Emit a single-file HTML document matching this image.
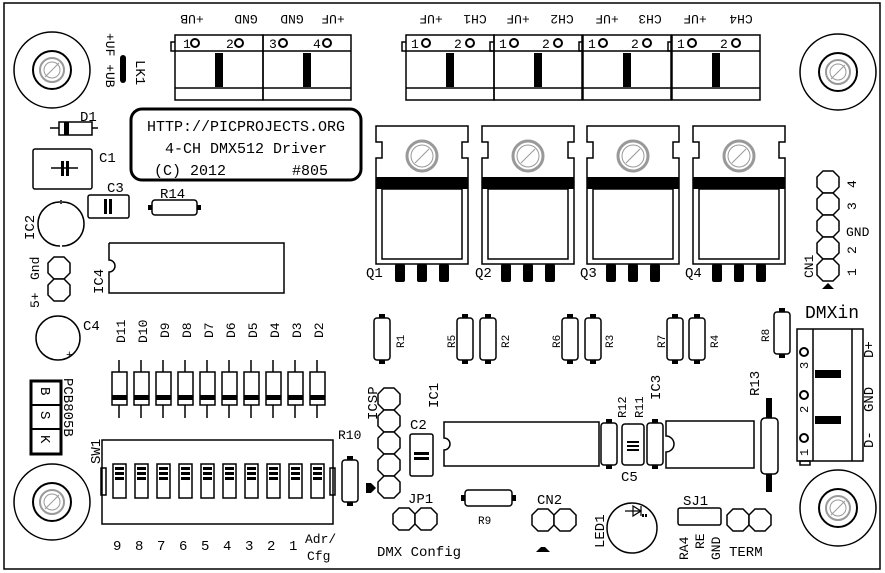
<!DOCTYPE html>
<html><head><meta charset="utf-8"><style>
html,body{margin:0;padding:0;background:#fff}
svg{display:block}
text{font-family:"Liberation Mono","DejaVu Sans Mono",monospace;fill:#000}
.s{fill:none;stroke:#000;stroke-width:1.5}
.f{fill:#fff;stroke:#000;stroke-width:1.5}
</style></head><body>
<svg width="885" height="573" viewBox="0 0 885 573" xmlns="http://www.w3.org/2000/svg">
<defs>
<g id="oct"><polygon class="f" points="-5,-11 5,-11 11,-5 11,5 5,11 -5,11 -11,5 -11,-5"/></g>
<g id="hole"><circle class="s" r="38"/><circle r="19" fill="none" stroke="#000" stroke-width="2"/><circle r="12" fill="none" stroke="#999" stroke-width="2"/><line x1="-7" y1="7" x2="7" y2="-7" stroke="#999" stroke-width="1"/><circle r="8" fill="none" stroke="#999" stroke-width="1"/></g>
<g id="rv"><rect x="-3" y="-25" width="6" height="5" fill="#000"/><rect x="-3" y="20" width="6" height="5" fill="#000"/><rect class="f" x="-8" y="-21" width="16" height="42" rx="3"/></g>
<g id="diode"><line class="s" x1="7" y1="0" x2="7" y2="12"/><rect class="f" x="0" y="12" width="15" height="33"/><rect x="0" y="35" width="15" height="5" fill="#000"/><line class="s" x1="7" y1="45" x2="7" y2="58"/></g>
<g id="sw"><rect class="f" x="0" y="0" width="13" height="34"/><rect x="2" y="3" width="9" height="3" fill="#000"/><rect x="2" y="8" width="9" height="3" fill="#000"/><rect x="2" y="13" width="9" height="3" fill="#000"/></g>
<g id="mos"><path class="f" d="M0,0 H92 V16 H86 V32 H92 V138 H0 V32 H6 V16 H0 Z"/><rect x="0" y="51" width="92" height="12" fill="#000"/><rect class="s" x="6" y="63" width="80" height="70"/><circle cx="46" cy="30" r="15" fill="none" stroke="#999" stroke-width="3"/><circle cx="46" cy="30" r="11" fill="none" stroke="#999" stroke-width="1"/><line x1="39" y1="37" x2="53" y2="23" stroke="#999"/><rect x="19" y="138" width="10" height="18" rx="2" fill="#000"/><rect x="41" y="138" width="10" height="18" rx="2" fill="#000"/><rect x="63" y="138" width="10" height="18" rx="2" fill="#000"/></g>
<g id="tb"><rect class="s" x="0" y="0" width="88" height="65"/><line class="s" x1="0" y1="16" x2="88" y2="16"/><line class="s" x1="0" y1="53" x2="88" y2="53"/><rect x="40" y="18" width="8" height="34" fill="#000"/><circle cx="20" cy="8" r="4" fill="none" stroke="#000" stroke-width="2"/><circle cx="64" cy="8" r="4" fill="none" stroke="#000" stroke-width="2"/></g>
</defs>

<rect x="4" y="3" width="876" height="566" fill="none" stroke="#000" stroke-width="1.5"/>

<use href="#hole" x="52" y="70"/><use href="#hole" x="838" y="72"/><use href="#hole" x="52" y="502"/><use href="#hole" x="838" y="508"/>

<use href="#tb" x="175" y="35"/><use href="#tb" x="263" y="35"/>
<path class="s" d="M175,42 h-4 v9 h4"/>
<text x="183" y="48" font-size="13">1</text><text x="226" y="48" font-size="13">2</text><text x="269" y="48" font-size="13">3</text><text x="313" y="48" font-size="13">4</text>
<use href="#tb" x="406" y="35"/><use href="#tb" x="494" y="35"/><use href="#tb" x="583" y="35"/><use href="#tb" x="672" y="35"/>
<path class="s" d="M406,42 h-4 v9 h4 M494,42 h-4 v9 h4 M583,42 h-4 v9 h4 M672,42 h-4 v9 h4"/>
<g font-size="13"><text x="411" y="48">1</text><text x="454" y="48">2</text><text x="499" y="48">1</text><text x="542" y="48">2</text><text x="588" y="48">1</text><text x="631" y="48">2</text><text x="677" y="48">1</text><text x="720" y="48">2</text></g>
<g font-size="13" text-anchor="middle">
<text transform="rotate(180 192 20)" x="192" y="25">+UB</text>
<text transform="rotate(180 246 20)" x="246" y="25">GND</text>
<text transform="rotate(180 292 20)" x="292" y="25">GND</text>
<text transform="rotate(180 333 20)" x="333" y="25">+UF</text>
<text transform="rotate(180 431 20)" x="431" y="25">+UF</text>
<text transform="rotate(180 475 20)" x="475" y="25">CH1</text>
<text transform="rotate(180 518 20)" x="518" y="25">+UF</text>
<text transform="rotate(180 562 20)" x="562" y="25">CH2</text>
<text transform="rotate(180 607 20)" x="607" y="25">+UF</text>
<text transform="rotate(180 650 20)" x="650" y="25">CH3</text>
<text transform="rotate(180 695 20)" x="695" y="25">+UF</text>
<text transform="rotate(180 741 20)" x="741" y="25">CH4</text>
</g>

<rect x="120" y="55" width="6" height="28" rx="3" fill="#000"/>
<text transform="rotate(90 106 33)" x="106" y="33" font-size="13">+UF +UB</text>
<text transform="rotate(90 136 60)" x="136" y="60" font-size="14">LK1</text>

<rect x="131" y="109" width="230" height="71" rx="11" fill="none" stroke="#000" stroke-width="3"/>
<text x="246" y="131" font-size="15" text-anchor="middle">HTTP://PICPROJECTS.ORG</text>
<text x="246" y="153" font-size="15" text-anchor="middle">4-CH DMX512 Driver</text>
<text x="154" y="175" font-size="15">(C) 2012</text><text x="292" y="175" font-size="15">#805</text>

<line class="s" x1="50" y1="128" x2="98" y2="128"/><rect class="f" x="59" y="122" width="33" height="13"/><rect x="64" y="122" width="5" height="13" fill="#000"/>
<text x="80" y="121" font-size="14">D1</text>
<rect class="s" x="33" y="149" width="59" height="40" rx="2"/>
<line class="s" x1="51" y1="168" x2="78" y2="168"/><rect x="61" y="161" width="3" height="15" fill="#000"/><rect x="66" y="161" width="3" height="15" fill="#000"/>
<text x="99" y="162" font-size="14">C1</text>
<rect class="s" x="88" y="195" width="41" height="23" rx="2"/><rect x="104" y="199" width="3" height="15" fill="#000"/><rect x="109" y="199" width="3" height="15" fill="#000"/>
<text x="107" y="192" font-size="14">C3</text>
<rect x="148" y="205" width="4" height="5" fill="#000"/><rect x="197" y="205" width="4" height="5" fill="#000"/>
<rect class="f" x="152" y="200" width="45" height="15" rx="3"/>
<text x="160" y="198" font-size="14">R14</text>
<path class="s" d="M60,202 A22,22 0 1 0 60,246"/><path class="s" d="M62,202 A22,22 0 0 1 62,246"/><line class="s" x1="61" y1="200" x2="61" y2="204"/>
<text transform="rotate(-90 34 240)" x="34" y="240" font-size="14">IC2</text>
<use href="#oct" x="59" y="268"/><use href="#oct" x="59" y="290"/>
<text transform="rotate(-90 39 280)" x="39" y="280" font-size="13">Gnd</text>
<text transform="rotate(-90 39 308)" x="39" y="308" font-size="13">5+</text>
<path class="s" d="M109,243 H284 V293 H109 V272 A6,6 0 0 0 109,260 V243"/>
<text transform="rotate(-90 103 294)" x="103" y="294" font-size="14">IC4</text>

<use href="#mos" x="376" y="126"/><use href="#mos" x="482" y="126"/><use href="#mos" x="587" y="126"/><use href="#mos" x="693" y="126"/>
<g font-size="14"><text x="366" y="277">Q1</text><text x="475" y="277">Q2</text><text x="580" y="277">Q3</text><text x="685" y="277">Q4</text></g>

<use href="#oct" x="828" y="182"/><use href="#oct" x="828" y="204"/><use href="#oct" x="828" y="226"/><use href="#oct" x="828" y="248"/><use href="#oct" x="828" y="270"/>
<polygon points="822,289 828,283 834,289" fill="#000"/>
<g font-size="13">
<text transform="rotate(-90 856 188)" x="856" y="188">4</text>
<text transform="rotate(-90 856 210)" x="856" y="210">3</text>
<text x="846" y="236">GND</text>
<text transform="rotate(-90 856 254)" x="856" y="254">2</text>
<text transform="rotate(-90 856 276)" x="856" y="276">1</text>
<text transform="rotate(-90 813 278)" x="813" y="278">CN1</text>
</g>

<circle class="s" cx="58" cy="338" r="22"/><text x="66" y="358" font-size="11">+</text>
<text x="83" y="330" font-size="14">C4</text>
<g font-size="13">
<text transform="rotate(-90 125 343)" x="125" y="343">D11</text>
<text transform="rotate(-90 147 343)" x="147" y="343">D10</text>
<text transform="rotate(-90 169 338)" x="169" y="338">D9</text>
<text transform="rotate(-90 191 338)" x="191" y="338">D8</text>
<text transform="rotate(-90 213 338)" x="213" y="338">D7</text>
<text transform="rotate(-90 235 338)" x="235" y="338">D6</text>
<text transform="rotate(-90 257 338)" x="257" y="338">D5</text>
<text transform="rotate(-90 279 338)" x="279" y="338">D4</text>
<text transform="rotate(-90 301 338)" x="301" y="338">D3</text>
<text transform="rotate(-90 323 338)" x="323" y="338">D2</text>
</g>
<use href="#diode" x="112" y="360"/><use href="#diode" x="134" y="360"/><use href="#diode" x="156" y="360"/><use href="#diode" x="178" y="360"/><use href="#diode" x="200" y="360"/><use href="#diode" x="222" y="360"/><use href="#diode" x="244" y="360"/><use href="#diode" x="266" y="360"/><use href="#diode" x="288" y="360"/><use href="#diode" x="310" y="360"/>

<rect x="31" y="381" width="30" height="73" fill="none" stroke="#000" stroke-width="3"/>
<line x1="31" y1="405" x2="61" y2="405" stroke="#000" stroke-width="2"/><line x1="31" y1="429" x2="61" y2="429" stroke="#000" stroke-width="2"/>
<g font-size="14"><text transform="rotate(90 41 387)" x="41" y="387">B</text><text transform="rotate(90 41 411)" x="41" y="411">S</text><text transform="rotate(90 41 435)" x="41" y="435">K</text>
<text transform="rotate(90 64 378)" x="64" y="378">PCB805B</text></g>

<rect class="s" x="102" y="440" width="231" height="84"/>
<rect class="s" x="101" y="468" width="5" height="27"/><rect class="s" x="330" y="468" width="5" height="27"/>
<use href="#sw" x="113" y="464"/><use href="#sw" x="135" y="464"/><use href="#sw" x="157" y="464"/><use href="#sw" x="179" y="464"/><use href="#sw" x="201" y="464"/><use href="#sw" x="223" y="464"/><use href="#sw" x="245" y="464"/><use href="#sw" x="267" y="464"/><use href="#sw" x="289" y="464"/><use href="#sw" x="311" y="464"/>
<text transform="rotate(-90 100 464)" x="100" y="464" font-size="14">SW1</text>
<g font-size="14"><text x="113" y="550">9</text><text x="135" y="550">8</text><text x="157" y="550">7</text><text x="179" y="550">6</text><text x="201" y="550">5</text><text x="223" y="550">4</text><text x="245" y="550">3</text><text x="267" y="550">2</text><text x="289" y="550">1</text></g>
<text x="305" y="543" font-size="13">Adr/</text><text x="307" y="560" font-size="13">Cfg</text>

<use href="#rv" x="350" y="481"/><text x="338" y="439" font-size="13">R10</text>
<use href="#oct" x="389" y="399"/><use href="#oct" x="389" y="421"/><use href="#oct" x="389" y="443"/><use href="#oct" x="389" y="465"/><use href="#oct" x="389" y="487"/>
<path d="M366,483 h5 l5,5 l-5,5 h-5 z" fill="#000"/>
<text transform="rotate(-90 377 420)" x="377" y="420" font-size="14">ICSP</text>
<use href="#oct" x="404" y="519"/><use href="#oct" x="426" y="519"/>
<text x="408" y="503" font-size="14">JP1</text>
<text x="377" y="556" font-size="14">DMX Config</text>

<rect class="s" x="410" y="434" width="23" height="42" rx="2"/><rect x="414" y="452" width="15" height="3" fill="#000"/><rect x="414" y="457" width="15" height="3" fill="#000"/>
<text x="410" y="429" font-size="14">C2</text>
<path class="s" d="M444,422 H599 V466 H444 V450 A6,6 0 0 0 444,438 Z"/>
<text transform="rotate(-90 438 408)" x="438" y="408" font-size="14">IC1</text>
<use href="#rv" x="609" y="444"/>
<rect class="f" x="622" y="424" width="22" height="41" rx="3"/><rect x="627" y="441" width="12" height="2" fill="#000"/><rect x="627" y="445" width="12" height="2" fill="#000"/><rect x="627" y="449" width="12" height="2" fill="#000"/>
<use href="#rv" x="655" y="444"/>
<text transform="rotate(-90 626 418)" x="626" y="418" font-size="12">R12</text>
<text transform="rotate(-90 643 418)" x="643" y="418" font-size="12">R11</text>
<text x="621" y="481" font-size="14">C5</text>
<path class="s" d="M666,421 H754 V468 H666 V452 A8,8 0 0 0 666,436 Z"/>
<text transform="rotate(-90 660 400)" x="660" y="400" font-size="14">IC3</text>
<rect x="766" y="398" width="6" height="94" fill="#000"/><rect class="f" x="761" y="418" width="17" height="56" rx="4"/>
<text transform="rotate(-90 759 396)" x="759" y="396" font-size="14">R13</text>

<use href="#rv" x="382" y="339"/><use href="#rv" x="465" y="339"/><use href="#rv" x="488" y="339"/><use href="#rv" x="570" y="339"/><use href="#rv" x="593" y="339"/><use href="#rv" x="675" y="339"/><use href="#rv" x="697" y="339"/><use href="#rv" x="782" y="333"/>
<g font-size="11">
<text transform="rotate(-90 404 348)" x="404" y="348">R1</text>
<text transform="rotate(-90 455 348)" x="455" y="348">R5</text>
<text transform="rotate(-90 509 348)" x="509" y="348">R2</text>
<text transform="rotate(-90 560 348)" x="560" y="348">R6</text>
<text transform="rotate(-90 613 348)" x="613" y="348">R3</text>
<text transform="rotate(-90 665 348)" x="665" y="348">R7</text>
<text transform="rotate(-90 718 348)" x="718" y="348">R4</text>
<text transform="rotate(-90 769 342)" x="769" y="342">R8</text>
</g>

<text x="805" y="318" font-size="18">DMXin</text>
<rect class="s" x="797" y="329" width="66" height="132"/>
<line class="s" x1="813" y1="329" x2="813" y2="461"/><line class="s" x1="852" y1="329" x2="852" y2="461"/>
<rect x="815" y="370" width="26" height="8" fill="#000"/><rect x="815" y="416" width="26" height="8" fill="#000"/>
<circle cx="804" cy="352" r="4" fill="none" stroke="#000" stroke-width="2"/><circle cx="804" cy="395" r="4" fill="none" stroke="#000" stroke-width="2"/><circle cx="804" cy="438" r="4" fill="none" stroke="#000" stroke-width="2"/>
<rect class="s" x="800" y="461" width="10" height="4"/>
<g font-size="12"><text transform="rotate(-90 808 369)" x="808" y="369">3</text><text transform="rotate(-90 808 413)" x="808" y="413">2</text><text transform="rotate(-90 808 456)" x="808" y="456">1</text></g>
<g font-size="14"><text transform="rotate(-90 873 358)" x="873" y="358">D+</text><text transform="rotate(-90 873 412)" x="873" y="412">GND</text><text transform="rotate(-90 873 448)" x="873" y="448">D-</text></g>

<rect x="461" y="495" width="4" height="6" fill="#000"/><rect x="512" y="495" width="4" height="6" fill="#000"/>
<rect class="f" x="465" y="490" width="47" height="16" rx="3"/>
<text x="478" y="524" font-size="11">R9</text>
<use href="#oct" x="543" y="520"/><use href="#oct" x="565" y="520"/>
<path d="M536,552 l5,-5 h4 l5,5 z" fill="#000"/>
<text x="537" y="504" font-size="14">CN2</text>
<circle class="s" cx="632" cy="528" r="25"/>
<path d="M625,511 h16 M633,506 v10 l8,-5 z M641,506 v10" fill="none" stroke="#000" stroke-width="1.2"/>
<rect x="642" y="514" width="2" height="3" fill="#000"/><rect x="645" y="514" width="2" height="3" fill="#000"/>
<text transform="rotate(-90 604 548)" x="604" y="548" font-size="14">LED1</text>
<rect class="s" x="678" y="508" width="43" height="17" rx="2"/>
<text x="683" y="505" font-size="14">SJ1</text>
<g font-size="13"><text transform="rotate(-90 688 560)" x="688" y="560">RA4</text><text transform="rotate(-90 704 549)" x="704" y="549">RE</text><text transform="rotate(-90 720 560)" x="720" y="560">GND</text></g>
<use href="#oct" x="738" y="520"/><use href="#oct" x="760" y="520"/>
<text x="729" y="556" font-size="14">TERM</text>
</svg>
</body></html>
